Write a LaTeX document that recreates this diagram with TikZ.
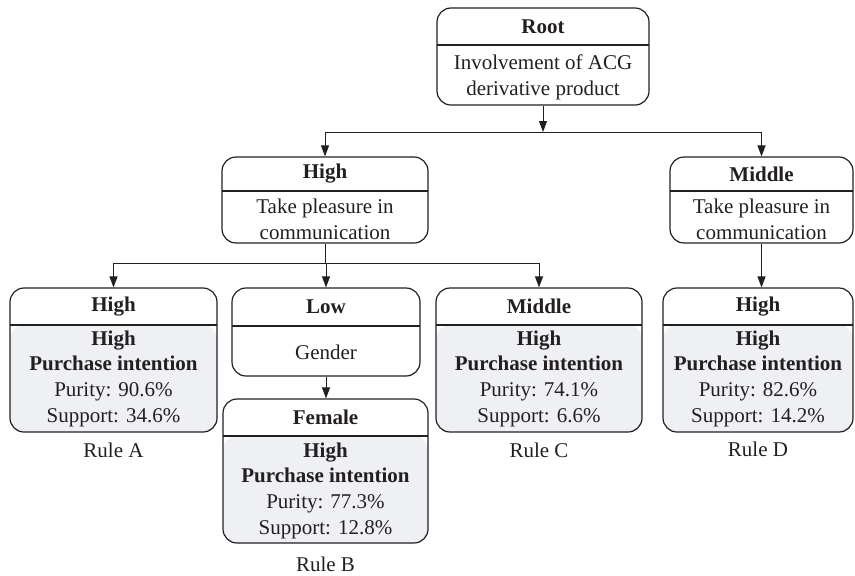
\documentclass[tikz,border=0pt]{standalone}
\usepackage{fontspec}
\setmainfont{Liberation Serif}
\usetikzlibrary{arrows.meta}
\definecolor{bodygray}{RGB}{239,240,243}
\definecolor{inkgray}{RGB}{35,31,32}

\begin{document}
\begin{tikzpicture}[x=0.5pt, y=-0.5pt,
    every node/.style={font=\fontsize{10.5}{12.85}\selectfont, text=inkgray, align=center},
    box/.style={draw=inkgray, line width=0.6pt, rounded corners=7pt, inner sep=0pt,
      path picture={\draw[inkgray, line width=0.6pt]
        ([yshift=-#1]path picture bounding box.north west) --
        ([yshift=-#1]path picture bounding box.north east);}},
    rulebox/.style={draw=inkgray, line width=0.6pt, rounded corners=7pt, inner sep=0pt,
      path picture={\fill[bodygray]
        ([yshift=-#1]path picture bounding box.north west) rectangle
        (path picture bounding box.south east);
        \draw[inkgray, line width=0.6pt]
        ([yshift=-#1]path picture bounding box.north west) --
        ([yshift=-#1]path picture bounding box.north east);}},
    link/.style={draw=inkgray, line width=0.5pt},
    arr/.style={link, -{Triangle[length=5.5pt, width=4pt]}}]
  \useasboundingbox (0,0) rectangle (855,575);
  % Root
  \node[box=18.5pt, minimum width=106pt, minimum height=48.5pt] (root) at (543,56.5) {};
  \node (rootT) at (543,26.5) {\bfseries Root};
  \node (rootB) at (543,77) {Involvement of ACG\\derivative product};
  % second level
  \node[box=17pt, minimum width=103pt, minimum height=43pt] (hi) at (325,200) {};
  \node (hiT) at (325,174) {\bfseries High};
  \node (hiB) at (325,219.5) {Take pleasure in\\communication};
  \node[box=17pt, minimum width=91.5pt, minimum height=43pt] (mid) at (761.5,200) {};
  \node (midT) at (761.5,174) {\bfseries Middle};
  \node (midB) at (761.5,219.5) {Take pleasure in\\communication};
  % third level
  \node[rulebox=18.5pt, minimum width=103.5pt, minimum height=72pt] (ruleA) at (113.5,360) {};
  \node (ruleAT) at (113.5,306.5) {\bfseries High};
  \node (ruleAB) at (113.5,378.5) {\bfseries High\\\bfseries Purchase intention\\Purity: 90.6\%\\Support: 34.6\%};
  \node (labA) at (113.5,450) {Rule A};
  \node[box=19pt, minimum width=94pt, minimum height=44pt] (low) at (326,332) {};
  \node (lowT) at (326,307) {\bfseries Low};
  \node (lowB) at (326,352) {Gender};
  \node[rulebox=18.5pt, minimum width=103pt, minimum height=72pt] (ruleC) at (539,360) {};
  \node (ruleCT) at (539,306.5) {\bfseries Middle};
  \node (ruleCB) at (539,378.5) {\bfseries High\\\bfseries Purchase intention\\Purity: 74.1\%\\Support: 6.6\%};
  \node (labC) at (539,450) {Rule C};
  \node[rulebox=18.5pt, minimum width=95pt, minimum height=72pt] (ruleD) at (758,360) {};
  \node (ruleDT) at (758,306.5) {\bfseries High};
  \node (ruleDB) at (758,378.5) {\bfseries High\\\bfseries Purchase intention\\Purity: 82.6\%\\Support: 14.2\%};
  \node (labD) at (758,449) {Rule D};
  % fourth level
  \node[rulebox=18.5pt, minimum width=102.5pt, minimum height=72pt] (ruleB) at (325.5,471) {};
  \node (ruleBT) at (325.5,417.5) {\bfseries Female};
  \node (ruleBB) at (325.5,490.5) {\bfseries High\\\bfseries Purchase intention\\Purity: 77.3\%\\Support: 12.8\%};
  \node (labB) at (325.5,564) {Rule B};
  % connectors
  \coordinate (j1) at (543,132);
  \coordinate (j2) at (325,263);
  \draw[arr] (root.south) -- (root.south |- j1);
  \draw[link] (hi.north |- j1) -- (mid.north |- j1);
  \draw[arr] (hi.north |- j1) -- (hi.north);
  \draw[arr] (mid.north |- j1) -- (mid.north);
  \draw[link] (hi.south) -- (hi.south |- j2);
  \draw[link] (ruleA.north |- j2) -- (ruleC.north |- j2);
  \draw[arr] (ruleA.north |- j2) -- (ruleA.north);
  \draw[arr] (low.north |- j2) -- (low.north);
  \draw[arr] (ruleC.north |- j2) -- (ruleC.north);
  \draw[arr] (low.south) -- (low.south |- ruleB.north);
  \draw[arr] (mid.south) -- (mid.south |- ruleD.north);
\end{tikzpicture}
\end{document}
